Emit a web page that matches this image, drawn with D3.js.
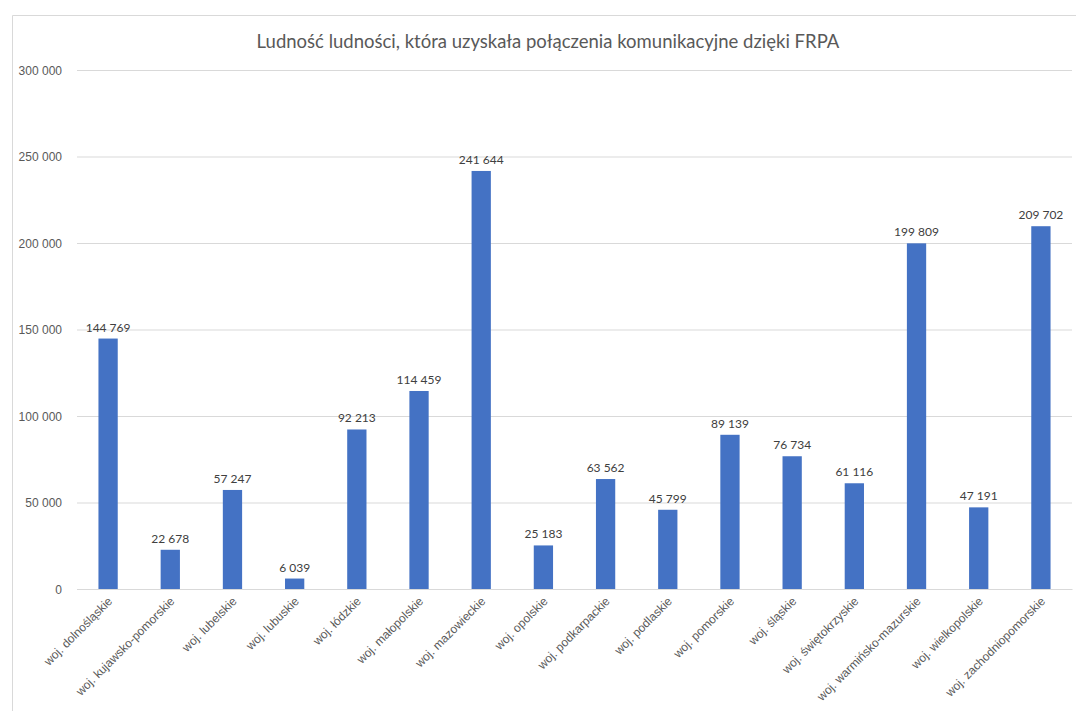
<!DOCTYPE html>
<html>
<head>
<meta charset="utf-8">
<script src="https://cdn.jsdelivr.net/npm/d3@7"></script>
<style>
  body { margin: 0; background: #fff; }
  svg { display: block; font-family: Lato, "Open Sans", sans-serif; }
  .grid line { stroke: #d9d9d9; stroke-width: 1; }
  .grid .domain { display: none; }
  .y-axis text { fill: #595959; font-size: 12px; }
  .x-axis text { fill: #595959; font-size: 12px; }
  .bar-label { fill: #404040; font-size: 12px; }
  .title { fill: #595959; font-size: 18.5px; }
</style>
</head>
<body>
<div id="chart"></div>
<script>
var categories = [
    "woj. dolnośląskie", "woj. kujawsko-pomorskie", "woj. lubelskie", "woj. lubuskie",
    "woj. łódzkie", "woj. małopolskie", "woj. mazowieckie", "woj. opolskie",
    "woj. podkarpackie", "woj. podlaskie", "woj. pomorskie", "woj. śląskie",
    "woj. świętokrzyskie", "woj. warmińsko-mazurskie", "woj. wielkopolskie", "woj. zachodniopomorskie"
];
var values = [144769, 22678, 57247, 6039, 92213, 114459, 241644, 25183,
    63562, 45799, 89139, 76734, 61116, 199809, 47191, 209702];
var yTicks = [0, 50000, 100000, 150000, 200000, 250000, 300000];
var title = "Ludność ludności, która uzyskała połączenia komunikacyjne dzięki FRPA";

var width = 1076, height = 711;
var margin = {top: 70, right: 4, bottom: 122, left: 77};

var locale = d3.formatLocale({decimal: ",", thousands: "\u00a0", grouping: [3], currency: ["", " zł"]});
var fmt = locale.format(",d");

var svg = d3.select("#chart").append("svg")
    .attr("width", width)
    .attr("height", height);

// chart frame (only top and left edges visible in the crop)
svg.append("path")
    .attr("d", "M12.5," + height + "V15.5H" + width)
    .attr("fill", "none")
    .attr("stroke", "#d9d9d9");

var g = svg.append("g")
    .attr("transform", "translate(" + margin.left + "," + margin.top + ")");

var w = width - margin.left - margin.right;
var h = height - margin.top - margin.bottom;

var x = d3.scaleBand().domain(categories).range([0, w]).paddingInner(0.69).paddingOuter(0.345);
var y = d3.scaleLinear().domain([0, 300000]).range([h, 0]);

g.append("g")
    .attr("class", "grid")
    .call(d3.axisLeft(y).tickValues(yTicks).tickSize(-w).tickFormat(""))
    .selectAll(".tick line").attr("stroke", "#d9d9d9");

g.append("g")
    .attr("class", "y-axis")
    .attr("transform", "translate(-12,0)")
    .call(d3.axisLeft(y).tickValues(yTicks).tickSize(0).tickFormat(fmt))
    .call(function(sel) { sel.select(".domain").remove(); })
    .selectAll("text").attr("dy", "0.35em");

g.selectAll(".bar")
    .data(values)
    .enter().append("rect")
    .attr("class", "bar")
    .attr("x", function(d, i) { return x(categories[i]); })
    .attr("y", function(d) { return y(d); })
    .attr("width", x.bandwidth())
    .attr("height", function(d) { return h - y(d); })
    .attr("fill", "#4472c4");

g.selectAll(".bar-label")
    .data(values)
    .enter().append("text")
    .attr("class", "bar-label")
    .attr("x", function(d, i) { return x(categories[i]) + x.bandwidth() / 2; })
    .attr("y", function(d) { return y(d) - 7; })
    .attr("text-anchor", "middle")
    .text(function(d) { return fmt(d); });

var xAxis = g.append("g")
    .attr("class", "x-axis")
    .attr("transform", "translate(0," + h + ")")
    .call(d3.axisBottom(x).tickSize(0));
xAxis.select(".domain").attr("stroke", "#d9d9d9");
xAxis.selectAll("text")
    .attr("text-anchor", "end")
    .attr("dy", 0)
    .attr("y", 0)
    .attr("transform", "translate(5,13) rotate(-45)");

svg.append("text")
    .attr("class", "title")
    .attr("x", 548)
    .attr("y", 48)
    .attr("text-anchor", "middle")
    .text(title);
</script>
</body>
</html>
